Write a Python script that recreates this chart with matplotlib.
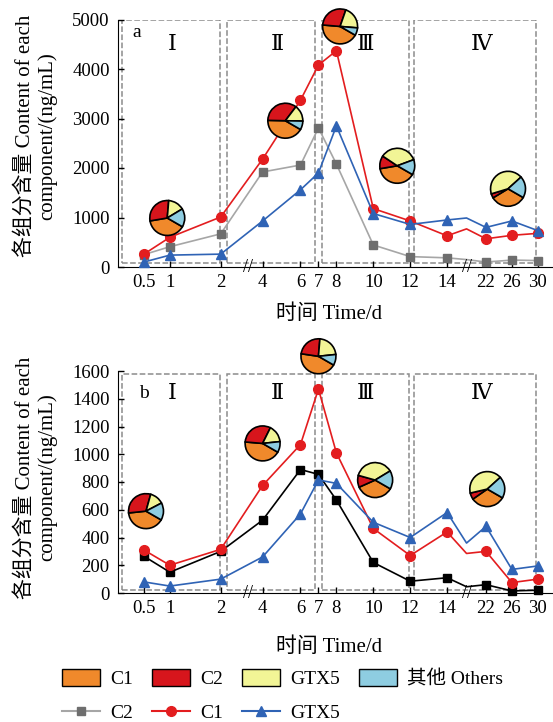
import numpy as np
import matplotlib
matplotlib.use('Agg')
import matplotlib.pyplot as plt
from matplotlib.patches import Patch, Rectangle
from matplotlib.lines import Line2D
import matplotlib.transforms as mtransforms

plt.rcParams['font.family'] = ['Liberation Serif', 'Noto Sans CJK SC']
plt.rcParams['axes.unicode_minus'] = False

# ---- data ----
days = [0.5, 1, 2, 4, 6, 7, 8, 10, 12, 14, 18, 22, 26, 30]
tick_days = [0.5, 1, 2, 4, 6, 7, 8, 10, 12, 14, 22, 26, 30]
tick_labels = ['0.5', '1', '2', '4', '6', '7', '8', '10', '12', '14', '22', '26', '30']

a_c1 = [260, 600, 1010, 2180, 3370, 4080, 4370, 1180, 930, 630, 770, 570, 640, 680]
a_c2 = [250, 410, 670, 1920, 2060, 2810, 2080, 445, 210, 185, 150, 100, 140, 130]
a_gtx5 = [100, 240, 260, 930, 1560, 1900, 2850, 1080, 860, 950, 990, 800, 930, 735]

b_c1 = [310, 200, 315, 775, 1070, 1470, 1010, 465, 270, 440, 285, 300, 75, 100]
b_c2 = [265, 150, 300, 525, 890, 855, 670, 220, 85, 110, 45, 60, 15, 20]
b_gtx5 = [80, 50, 100, 260, 570, 815, 790, 510, 400, 580, 360, 480, 170, 195]

# pie compositions: C1, C2, GTX5, Others (%)
pie_a = [[39, 29, 15, 17], [42, 35, 15, 8], [43, 29, 21, 7], [39, 12, 35, 14], [33, 4, 43, 20]]
pie_b = [[40, 31, 13, 16], [43, 31, 16, 10], [44, 24, 22, 10], [35, 11, 37, 17], [32, 6, 42, 20]]
# pie centres (day, value)
pie_a_at = [(0.95, 990), (5.2, 2955), (8.2, 4860), (11.3, 2045), (25.4, 1580)]
pie_b_at = [(0.54, 590), (4.0, 1078), (7.0, 1706), (10.1, 814), (22.2, 749)]

regions = ['Ⅰ', 'Ⅱ', 'Ⅲ', 'Ⅳ']
region_span = [(0.08, 1.98), (2.29, 6.83), (7.22, 11.95), (12.2, 29.7)]
region_label_day = [1.05, 4.8, 9.6, 21.0]
break_days = [3.3, 18.0]

pie_colors = ['#F0892B', '#D7151C', '#F2F596', '#8ECDE1']
pie_names = ['C1', 'C2', 'GTX5', '其他 Others']

# broken time axis: day -> axis position
scale_days = [0, 0.5, 1, 2, 4, 6, 7, 8, 10, 12, 14, 22, 26, 30, 33]
scale_pos = [0, 26, 52, 103, 145, 183, 201, 219, 256, 293, 330, 369, 395, 421, 440]


def fwd(d):
    return np.interp(d, scale_days, scale_pos)


def inv(p):
    return np.interp(p, scale_pos, scale_days)


W, H = 553, 722
fig = plt.figure(figsize=(W / 100, H / 100), dpi=100)
ax_a = fig.add_axes([118 / W, (H - 267) / H, 1 - 118 / W, 247.5 / H])
ax_b = fig.add_axes([118 / W, (H - 593) / H, 1 - 118 / W, 222 / H])

mark_idx = [i for i, d in enumerate(days) if d in tick_days]


def setup(ax, ymax, ystep, series, box_y, letter, letter_pos, pies, pie_at):
    ax.set_xscale('function', functions=(fwd, inv))
    ax.set_xlim(0, 32.4)
    ax.set_ylim(0, ymax)
    ax.set_yticks(np.arange(0, ymax + 1, ystep))
    ax.set_xticks(tick_days)
    ax.set_xticklabels(tick_labels)
    ax.minorticks_off()
    for s in ['top', 'right']:
        ax.spines[s].set_visible(False)
    ax.tick_params(direction='in', length=4, width=1, labelsize=13.5)
    ax.tick_params(axis='y', pad=6)
    ax.tick_params(axis='x', pad=5)

    for (x0, x1), name, lx in zip(region_span, regions, region_label_day):
        ax.add_patch(Rectangle((x0, box_y[0]), x1 - x0, box_y[1] - box_y[0],
                               fill=False, ls='--', lw=1.1, ec='#8c8c8c'))
        ax.text(lx, ymax * 0.9, name, ha='center', va='center', fontsize=16,
                family=['DejaVu Serif'])
    ax.text(letter_pos[0], ymax * letter_pos[1], letter, ha='center', va='center',
            fontsize=14)

    for vals, lc, mc, mk, ms in series:
        ax.plot(days, vals, color=lc, lw=1.2, marker=mk, ms=ms, mfc=mc, mec=mc,
                markevery=mark_idx, clip_on=False, zorder=3)

    tr = mtransforms.blended_transform_factory(ax.transData, ax.transAxes)
    for bd in break_days:
        ax.text(bd, 0, '//', transform=tr, ha='center', va='center', fontsize=13,
                clip_on=False)

    ax.set_ylabel('各组分含量 Content of each\ncomponent/(ng/mL)', fontsize=15,
                  linespacing=1.15)
    ax.set_xlabel('时间 Time/d', fontsize=15)

    r = 18
    for fr, (d, v) in zip(pies, pie_at):
        cx, cy = ax.transData.transform((d, v))
        ins = fig.add_axes([(cx - r) / W, (cy - r) / H, 2 * r / W, 2 * r / H])
        ins.pie(fr, colors=pie_colors, startangle=-30, counterclock=False,
                wedgeprops=dict(edgecolor='black', linewidth=1.2))
        ins.set_xlim(-1.03, 1.03)
        ins.set_ylim(-1.03, 1.03)
        ins.axis('off')


setup(ax_a, 5000, 1000,
      [(a_c2, '#A6A6A6', '#6E6E6E', 's', 6),
       (a_c1, '#E31D1F', '#E31D1F', 'o', 7),
       (a_gtx5, '#2F63B5', '#2F63B5', '^', 7.5)],
      (90, 4990), 'a', (0.37, 0.947), pie_a, pie_a_at)
ax_a.yaxis.set_label_coords(-0.14, 0.53)
ax_a.xaxis.set_label_coords(0.485, -0.15)

setup(ax_b, 1600, 200,
      [(b_c2, 'black', 'black', 's', 6),
       (b_c1, '#E31D1F', '#E31D1F', 'o', 7),
       (b_gtx5, '#2F63B5', '#2F63B5', '^', 7.5)],
      (22, 1577), 'b', (0.5, 0.9), pie_b, pie_b_at)
ax_b.yaxis.set_label_coords(-0.14, 0.52)
ax_b.xaxis.set_label_coords(0.485, -0.2)

# legend
hp = [Patch(fc=c, ec='black', lw=1) for c in pie_colors]
hl = [Line2D([], [], color='#A6A6A6', marker='s', mfc='#6E6E6E', mec='#6E6E6E', ms=6),
      Line2D([], [], color='#E31D1F', marker='o', ms=7),
      Line2D([], [], color='#2F63B5', marker='^', ms=7.5)]
handles = [hp[0], hl[0], hp[1], hl[1], hp[2], hl[2], hp[3]]
labels = ['C1', 'C2', 'C2', 'C1', 'GTX5', 'GTX5', '其他 Others']
fig.legend(handles, labels, ncol=4, loc='upper left', bbox_to_anchor=(62 / W, 1 - 669 / H),
           frameon=False, fontsize=14, handlelength=1.95, handleheight=1.0,
           handletextpad=0.55, columnspacing=0.95, labelspacing=0.75, numpoints=1,
           borderpad=0, borderaxespad=0)

fig.savefig('out.png', dpi=100)
